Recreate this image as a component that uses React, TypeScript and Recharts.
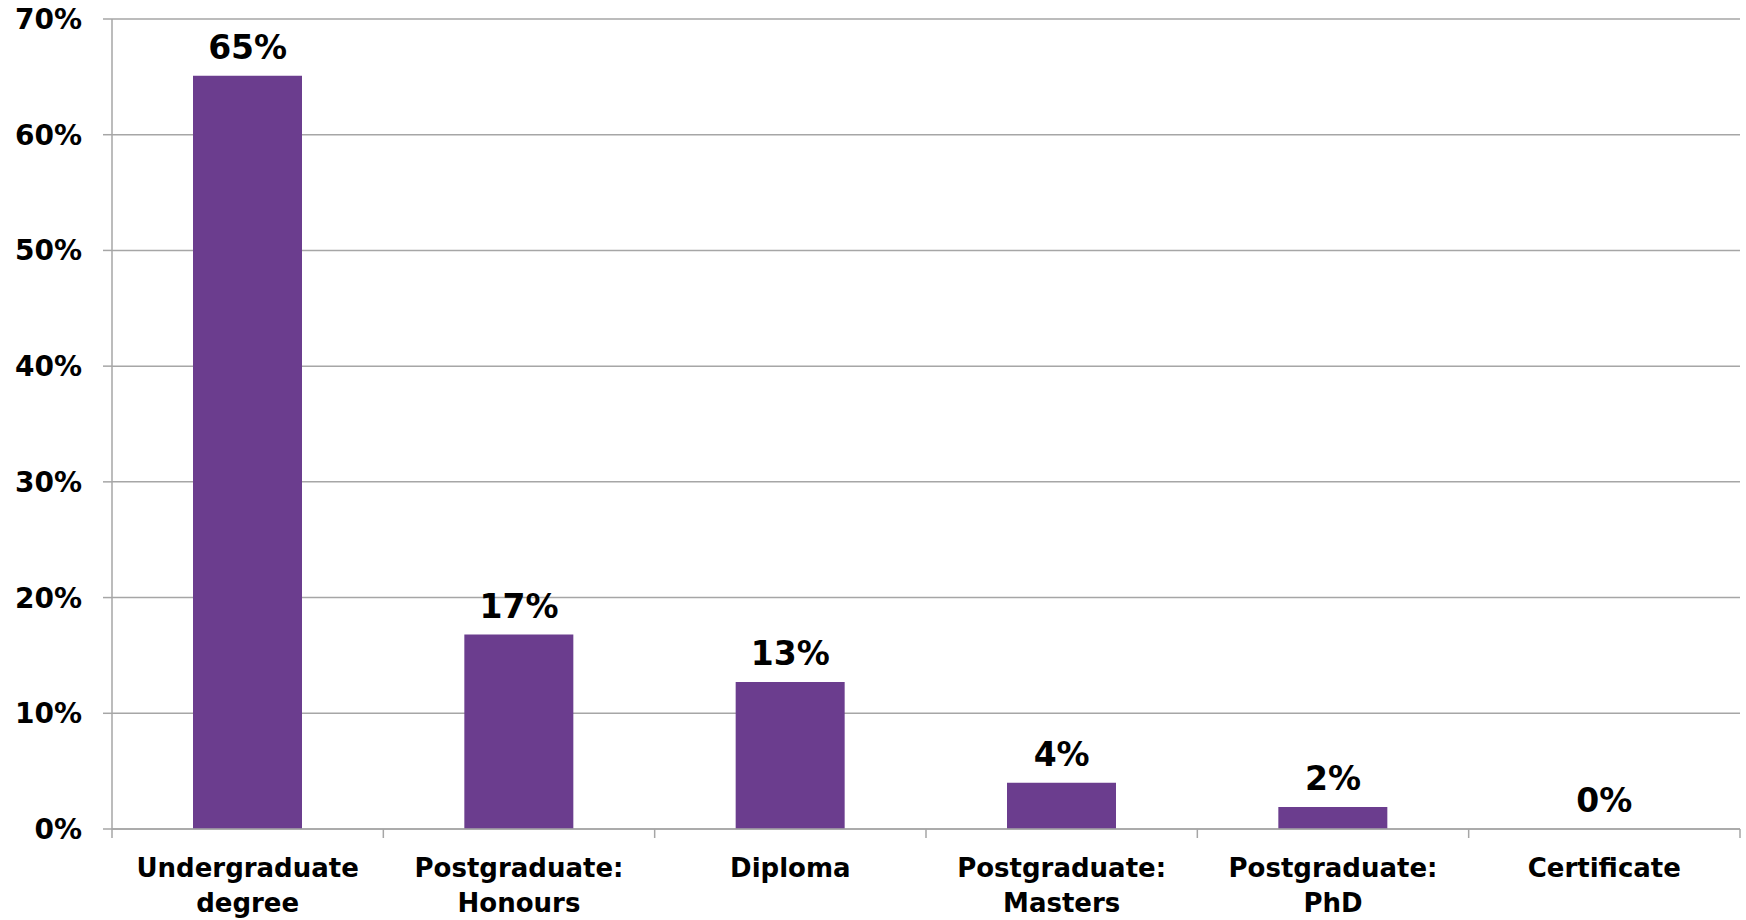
import React from "react";
import { ComposedChart, Bar, Line, XAxis, YAxis, CartesianGrid, LabelList } from "recharts";

const categories = [
  "Undergraduate degree",
  "Postgraduate: Honours",
  "Diploma",
  "Postgraduate: Masters",
  "Postgraduate: PhD",
  "Certificate",
];
const shares = [65.1, 16.8, 12.7, 4.0, 1.9, 0];
const yTicks = [0, 10, 20, 30, 40, 50, 60, 70];

const data = categories.map((name, i) => ({ name, value: shares[i] }));

const FONT = "'DejaVu Sans', Verdana, sans-serif";
const GRID = "#a6a6a6";

// category label plus the little tick marks on the category boundaries
const XTick = (props: any) => {
  const { x, y, payload, index, width, visibleTicksCount } = props;
  const band = width / (visibleTicksCount || categories.length);
  const lines = String(payload.value).split(" ");
  const last = index === (visibleTicksCount || categories.length) - 1;
  return (
    <g>
      <line x1={x - band / 2} x2={x - band / 2} y1={y} y2={y + 9} stroke={GRID} strokeWidth={1.5} />
      {last && <line x1={x + band / 2} x2={x + band / 2} y1={y} y2={y + 9} stroke={GRID} strokeWidth={1.5} />}
      <text x={x} y={y} textAnchor="middle" fontFamily={FONT} fontWeight="bold" fontSize={26} fill="#000">
        {lines.map((l, i) => (
          <tspan key={i} x={x} dy={i === 0 ? 48 : 35}>
            {l}
          </tspan>
        ))}
      </text>
    </g>
  );
};

const YTick = (props: any) => {
  const { x, y, payload } = props;
  return (
    <text x={x} y={y} dy={10} textAnchor="end" fontFamily={FONT} fontWeight="bold" fontSize={28} fill="#000">
      {payload.value}%
    </text>
  );
};

export default function App() {
  return (
    <div style={{ position: "absolute", left: 0, top: 0, background: "#fff" }}>
      <ComposedChart
        width={1746}
        height={920}
        data={data}
        margin={{ top: 19, right: 6, left: 0, bottom: 0 }}
      >
        <CartesianGrid stroke={GRID} strokeWidth={1.5} vertical={false} />
        <XAxis
          dataKey="name"
          height={91}
          interval={0}
          stroke={GRID}
          strokeWidth={1.5}
          tickSize={0}
          tickMargin={0}
          tickLine={false}
          tick={<XTick />}
        />
        <YAxis
          width={112}
          domain={[0, 70]}
          ticks={yTicks}
          interval={0}
          stroke={GRID}
          strokeWidth={1.5}
          tickSize={9}
          tickMargin={21}
          tick={<YTick />}
        />
        <Bar dataKey="value" fill="#6b3d8e" barSize={109} isAnimationActive={false} />
        <Line
          dataKey="value"
          stroke="none"
          dot={false}
          activeDot={false}
          legendType="none"
          isAnimationActive={false}
        >
          <LabelList
            dataKey="value"
            position="top"
            offset={17}
            formatter={(v: any) => `${Math.round(Number(v))}%`}
            style={{ fontFamily: FONT, fontWeight: "bold", fontSize: 33, fill: "#000" }}
          />
        </Line>
      </ComposedChart>
    </div>
  );
}
